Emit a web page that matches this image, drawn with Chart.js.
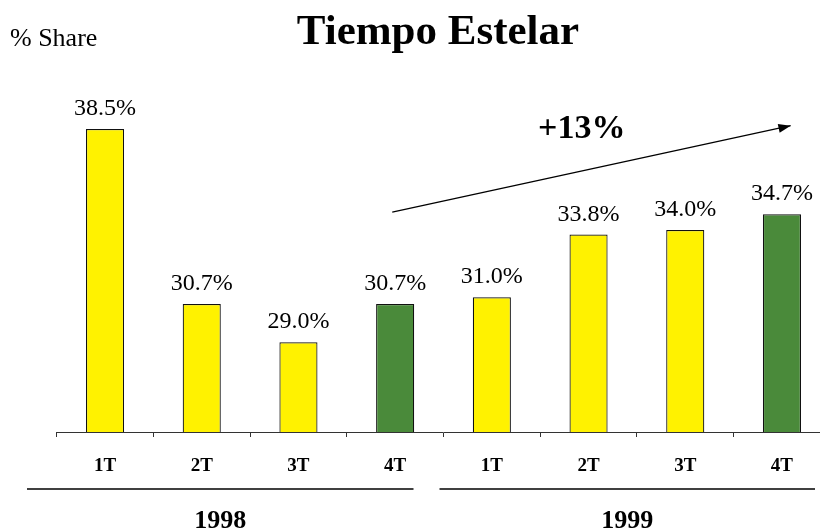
<!DOCTYPE html>
<html>
<head>
<meta charset="utf-8">
<script src="https://cdn.jsdelivr.net/npm/chart.js@4"></script>
<style>
  html, body { margin: 0; padding: 0; background: #fff; overflow: hidden; }
  #wrap { width: 840px; height: 531px; }
</style>
</head>
<body>
<div id="wrap"><canvas id="shareChart" width="840" height="531"></canvas></div>
<script>
// --- data ---
const quarters = ['1T', '2T', '3T', '4T', '1T', '2T', '3T', '4T'];
const years = ['1998', '1999'];
const quartersPerYear = 4;
const share = [38.5, 30.7, 29.0, 30.7, 31.0, 33.8, 34.0, 34.7];
const growthLabel = '+13%';

const SERIF = '"Liberation Serif", "Times New Roman", serif';
const YELLOW = '#FFF200';
const GREEN = '#4A8A3A';

// last quarter of each year is highlighted in green
const barColors = quarters.map(q => q === '4T' ? GREEN : YELLOW);

// --- extras drawn on top: title, value labels, arrow, year brackets ---
const decorations = {
    id: 'decorations',
    afterDatasetsDraw(chart) {
        const ctx = chart.ctx;
        const x = chart.scales.x;
        const y = chart.scales.y;
        ctx.save();
        ctx.fillStyle = '#000';
        ctx.strokeStyle = '#000';

        // title + unit
        ctx.textAlign = 'center';
        ctx.textBaseline = 'alphabetic';
        ctx.font = 'bold 43px ' + SERIF;
        ctx.fillText('Tiempo Estelar', 438, 44);
        ctx.textAlign = 'left';
        ctx.font = '26px ' + SERIF;
        ctx.fillText('% Share', 10, 46);

        // value labels above bars
        ctx.textAlign = 'center';
        ctx.font = '24px ' + SERIF;
        chart.getDatasetMeta(0).data.forEach((bar, i) => {
            ctx.fillText(share[i].toFixed(1) + '%', bar.x, bar.y - 14);
        });

        // growth arrow (placed in data space)
        const x0 = x.getPixelForValue(2.97), y0 = y.getPixelForValue(34.8);
        const x1 = x.getPixelForValue(7.09), y1 = y.getPixelForValue(38.65);
        ctx.lineWidth = 1.3;
        ctx.beginPath();
        ctx.moveTo(x0, y0);
        ctx.lineTo(x1, y1);
        ctx.stroke();
        const ang = Math.atan2(y1 - y0, x1 - x0);
        ctx.beginPath();
        ctx.moveTo(x1, y1);
        ctx.lineTo(x1 - 13 * Math.cos(ang - 0.35), y1 - 13 * Math.sin(ang - 0.35));
        ctx.lineTo(x1 - 13 * Math.cos(ang + 0.35), y1 - 13 * Math.sin(ang + 0.35));
        ctx.closePath();
        ctx.fill();
        ctx.font = 'bold 34px ' + SERIF;
        ctx.fillText(growthLabel, x.getPixelForValue(4.93), y.getPixelForValue(38.1));

        // year brackets
        ctx.lineWidth = 1.5;
        ctx.font = 'bold 26px ' + SERIF;
        const lineY = 489;
        years.forEach((yr, k) => {
            const first = k * quartersPerYear;
            const last = first + quartersPerYear - 1;
            const half = (x.getPixelForValue(1) - x.getPixelForValue(0)) / 2;
            const left = k === 0 ? 27 : x.getPixelForValue(first) - half - 4;
            const right = k === 0 ? x.getPixelForValue(last) + half - 30 : 815;
            ctx.beginPath();
            ctx.moveTo(left, lineY);
            ctx.lineTo(right, lineY);
            ctx.stroke();
            ctx.fillText(yr, (left + right) / 2, 528);
        });
        ctx.restore();
    }
};

const ctx = document.getElementById('shareChart').getContext('2d');
new Chart(ctx, {
    type: 'bar',
    data: {
        labels: quarters,
        datasets: [{
            data: share,
            backgroundColor: barColors,
            borderColor: '#111',
            borderWidth: 1.2,
            categoryPercentage: 1,
            barPercentage: 0.394
        }]
    },
    options: {
        responsive: false,
        animation: false,
        layout: { padding: { left: 56.7, right: 9.7, top: 95.4, bottom: 0 } },
        plugins: { legend: { display: false }, tooltip: { enabled: false } },
        scales: {
            x: {
                afterFit: (s) => { s.height = 99; },
                grid: { offset: true, drawOnChartArea: false, drawTicks: true, tickLength: 5, color: '#333' },
                border: { display: true, color: '#333', width: 1 },
                ticks: { color: '#000', padding: 18, font: { family: SERIF, size: 19, weight: 'bold' } }
            },
            y: { display: false, min: 25, max: 40 }
        }
    },
    plugins: [decorations]
});
</script>
</body>
</html>
